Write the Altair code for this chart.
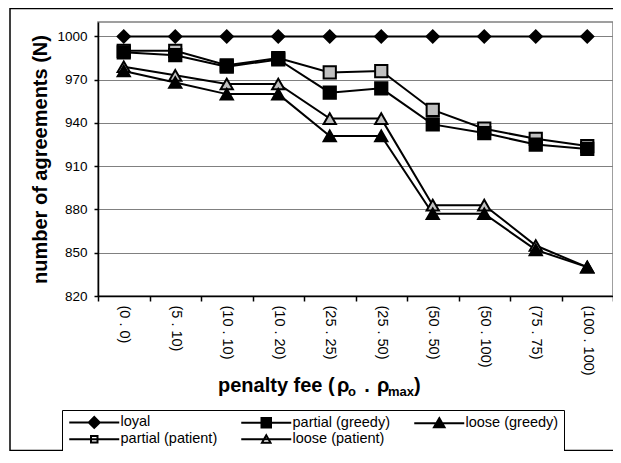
import altair as alt
import pandas as pd

FONT = "Liberation Sans"

categories = ["(0 . 0)", "(5 . 10)", "(10 . 10)", "(10 . 20)", "(25 . 25)",
              "(25 . 50)", "(50 . 50)", "(50 . 100)", "(75 . 75)", "(100 . 100)"]

loyal = [1000, 1000, 1000, 1000, 1000, 1000, 1000, 1000, 1000, 1000]
partial_greedy = [989, 987, 979, 984, 961, 964, 939, 933, 925, 922]
partial_patient = [990, 990, 980, 985, 975, 976, 949, 936, 929, 924]
loose_greedy = [976, 968, 960, 960, 931, 931, 877, 877, 852, 840]
loose_patient = [979, 973, 967, 967, 943, 943, 883, 883, 855, 840]

legend_order = ["loyal", "partial (greedy)", "loose (greedy)",
                "partial (patient)", "loose (patient)"]
draw_order = ["loyal", "partial (patient)", "loose (patient)",
              "partial (greedy)", "loose (greedy)"]
series_values = {
    "loyal": loyal,
    "partial (greedy)": partial_greedy,
    "loose (greedy)": loose_greedy,
    "partial (patient)": partial_patient,
    "loose (patient)": loose_patient,
}
y_ticks = [820, 850, 880, 910, 940, 970, 1000]

rows = []
for s in draw_order:
    for c, v in zip(categories, series_values[s]):
        rows.append({"fee": c, "series": s, "N": v})
df = pd.DataFrame(rows)

plot_shape = {"loyal": "diamond", "partial (greedy)": "square", "loose (greedy)": "triangle-up",
              "partial (patient)": "square", "loose (patient)": "triangle-up"}
plot_fill = {"loyal": "black", "partial (greedy)": "black", "loose (greedy)": "black",
             "partial (patient)": "#C0C0C0", "loose (patient)": "#C0C0C0"}


# legend glyphs: a horizontal line plus a marker; solid markers drawn as
# concentric outlines so they look filled with stroke alone
def poly(pts, cx=0.0, cy=0.0, k=1.0):
    p = [(cx + (x - cx) * k, cy + (y - cy) * k) for x, y in pts]
    return "M" + "L".join(f"{x:.3f},{y:.3f}" for x, y in p) + "Z"


def solid(pts, cx, cy, ks):
    return " ".join(poly(pts, cx, cy, k) for k in ks)


LINE = "M-5,0H5 "
DIAM = [(0, -1.1), (1.1, 0), (0, 1.1), (-1.1, 0)]
SQ = [(-0.95, -0.95), (0.95, -0.95), (0.95, 0.95), (-0.95, 0.95)]
TRI = [(0, -1.0), (1.05, 0.8), (-1.05, 0.8)]
OSQ = [(-0.65, -0.65), (0.65, -0.65), (0.65, 0.65), (-0.65, 0.65)]
OTRI = [(0, -0.8), (0.85, 0.7), (-0.85, 0.7)]
KS = [1.0, 0.72, 0.44, 0.16]
legend_shapes = [
    LINE + solid(DIAM, 0, 0, KS),
    LINE + solid(SQ, 0, 0, KS),
    LINE + solid(TRI, 0, 0.2, KS),
    LINE + poly(OSQ),
    LINE + poly(OTRI),
]

x_enc = alt.X(
    "fee:N", sort=categories,
    scale=alt.Scale(type="band", paddingInner=0, paddingOuter=0),
    axis=alt.Axis(title=None, labelAngle=90, labelFont=FONT, labelFontSize=14.5,
                  labelColor="black", tickBand="extent", tickSize=5, tickColor="black",
                  tickWidth=1.5, domainColor="black", domainWidth=1.5, labelPadding=4,
                  grid=False),
)
y_enc = alt.Y(
    "N:Q", scale=alt.Scale(domain=[820, 1010], nice=False, zero=False),
    axis=alt.Axis(title="number of agreements (N)", values=y_ticks, format="d",
                  titleFont=FONT, titleFontSize=20, titleFontWeight="bold", titleColor="black",
                  titlePadding=6, labelFont=FONT, labelFontSize=13.5, labelColor="black",
                  tickSize=4, tickColor="black", tickWidth=1.5, labelPadding=7,
                  domainColor="black", domainWidth=1.5, gridColor="#808080", gridWidth=1),
)

base = alt.Chart(df)

lines = base.mark_line(color="black", strokeWidth=2).encode(
    x=x_enc, y=y_enc, detail="series:N"
)

point_layers = []
for s in draw_order:
    point_layers.append(
        base.transform_filter(alt.datum.series == s).mark_point(
            shape=plot_shape[s], filled=True, fill=plot_fill[s], size=150,
            stroke="black", strokeWidth=2, opacity=1, fillOpacity=1, strokeOpacity=1
        ).encode(x=x_enc, y=y_enc)
    )

legend_layer = base.transform_filter("datum.N < 0").mark_point(
    filled=False, color="black", stroke="black", strokeWidth=2, size=100, opacity=1
).encode(
    shape=alt.Shape(
        "series:N",
        scale=alt.Scale(domain=legend_order, range=legend_shapes),
        legend=alt.Legend(
            title=None, orient="none", legendX=-36, legendY=388, columns=3,
            direction="horizontal",
            fillColor="white", strokeColor="black", padding=5,
            labelFont=FONT, labelFontSize=14.5, labelColor="black",
            symbolSize=100, symbolOffset=20, labelOffset=19,
            columnPadding=19, rowPadding=-4, symbolStrokeWidth=2,
            symbolStrokeColor="black", symbolOpacity=1, gridAlign="each",
        ),
    )
)

one = alt.Data(values=[{"k": 1}])
frame = alt.Chart(one).mark_rect(fill=None, stroke="black", strokeWidth=1.5).encode(
    x=alt.value(-88), x2=alt.value(540), y=alt.value(-13.5), y2=alt.value(428.5)
)


def title_part(txt, xpos, ypos, size, align="left"):
    return alt.Chart(one).mark_text(
        align=align, baseline="alphabetic", font=FONT, fontSize=size,
        fontWeight="bold", color="black"
    ).encode(x=alt.value(xpos), y=alt.value(ypos), text=alt.value(txt))


xtitle = [
    title_part("penalty fee (", 120, 370, 20),
    title_part("ρ", 239, 370, 20),
    title_part("o", 250, 374, 13),
    title_part(".", 269, 370, 20, "center"),
    title_part("ρ", 279, 370, 20),
    title_part("max", 290, 374, 13),
    title_part(")", 316, 370, 20),
]

chart = alt.layer(frame, lines, *point_layers, legend_layer, *xtitle).properties(
    width=515, height=274,
    padding={"left": 90, "top": 14, "right": 0, "bottom": 155},
    autosize=alt.AutoSizeParams(type="none"),
    background="white",
).configure_view(fill="#C0C0C0", stroke="#808080", strokeWidth=1.5)

chart.save("out.html", embed_options={"renderer": "svg", "actions": False})
